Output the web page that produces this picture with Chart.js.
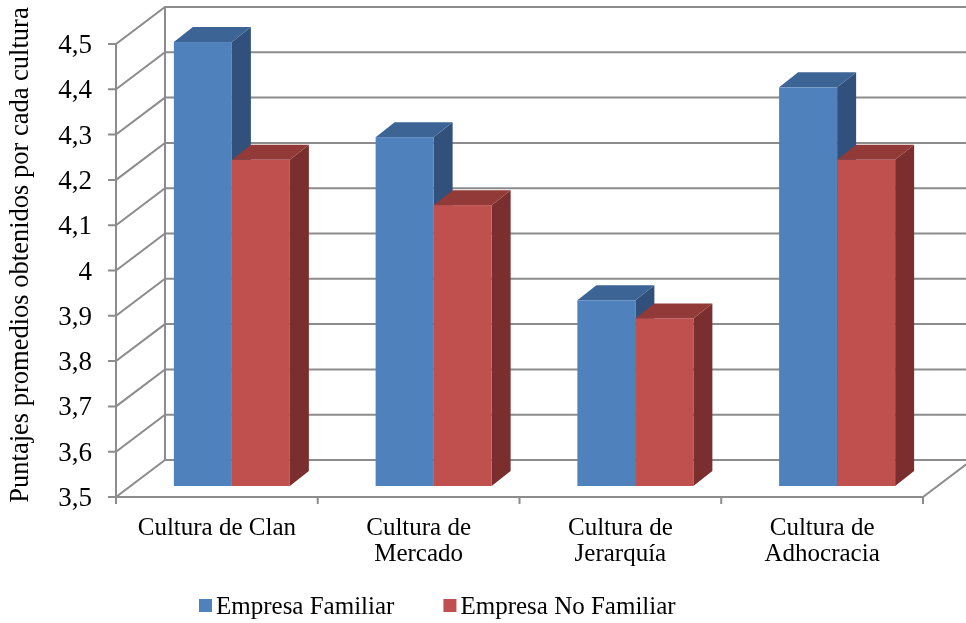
<!DOCTYPE html>
<html lang="es">
<head>
<meta charset="UTF-8">
<title>Puntajes promedios por cultura</title>
<script src="https://cdn.jsdelivr.net/npm/chart.js"></script>
<style>
  html, body { margin: 0; padding: 0; background: #fff; }
  canvas { display: block; }
</style>
</head>
<body>
<canvas id="myChart" width="966" height="623"></canvas>
<script>
// datos
const categorias = ['Cultura de Clan', ['Cultura de', 'Mercado'], ['Cultura de', 'Jerarquía'], ['Cultura de', 'Adhocracia']];
const empresaFamiliar = [4.48, 4.27, 3.91, 4.38];
const empresaNoFamiliar = [4.22, 4.12, 3.87, 4.22];
const nombresSeries = ['Empresa Familiar', 'Empresa No Familiar'];
const ejeMin = 3.5, ejeMax = 4.5, ejePaso = 0.1;
const tituloEjeY = 'Puntajes promedios obtenidos por cada cultura';

// colores de cada cara: frente, arriba, lado
const colores = [
  { frente: '#4f81bd', arriba: '#3c6494', lado: '#31517c' },
  { frente: '#c0504d', arriba: '#923a38', lado: '#7a2e2d' }
];

const FUENTE = '"Liberation Serif", "Times New Roman", serif';
const PARED = { dx: 49, dy: -37 };                 // fondo de la caja 3D
const BARRA = { fx: 15, fy: -11, dx: 19, dy: -15 }; // desplazamiento y profundidad de las barras

const caja3d = {
  id: 'caja3d',
  beforeDatasetsDraw(chart) {
    const { ctx, chartArea: a, scales: { x, y } } = chart;
    ctx.save();
    ctx.strokeStyle = '#8c8c8c';
    ctx.lineWidth = 2;
    ctx.lineCap = 'butt';

    // lineas de la pared izquierda y del fondo
    y.ticks.forEach(t => {
      const py = y.getPixelForValue(t.value);
      ctx.beginPath();
      ctx.moveTo(a.left - 8, py);
      ctx.lineTo(a.left, py);
      ctx.lineTo(a.left + PARED.dx, py + PARED.dy);
      ctx.lineTo(a.right + PARED.dx, py + PARED.dy);
      ctx.stroke();
    });
    // arista trasera izquierda y eje frontal
    ctx.beginPath();
    ctx.moveTo(a.left + PARED.dx, a.top + PARED.dy);
    ctx.lineTo(a.left + PARED.dx, a.bottom + PARED.dy);
    ctx.moveTo(a.left, a.top);
    ctx.lineTo(a.left, a.bottom);
    // piso: borde frontal y lateral derecho
    ctx.moveTo(a.left, a.bottom);
    ctx.lineTo(a.right, a.bottom);
    ctx.lineTo(a.right + PARED.dx, a.bottom + PARED.dy);
    ctx.stroke();
    // marcas del eje x entre categorias
    const paso = (a.right - a.left) / categorias.length;
    ctx.beginPath();
    for (let i = 0; i <= categorias.length; i++) {
      const px = a.left + paso * i;
      ctx.moveTo(px, a.bottom);
      ctx.lineTo(px, a.bottom + 7);
    }
    ctx.stroke();

    // barras 3D, categoria por categoria para que se tapen bien
    const metas = chart.data.datasets.map((d, i) => chart.getDatasetMeta(i));
    for (let j = 0; j < categorias.length; j++) {
      metas.forEach((meta, i) => {
        const el = meta.data[j];
        const { x: cx, y: top, base, width } = el.getProps(['x', 'y', 'base', 'width'], true);
        const izq = cx - width / 2 + BARRA.fx;
        const der = cx + width / 2 + BARRA.fx;
        const arr = top + BARRA.fy;
        const abj = base + BARRA.fy;
        const c = colores[i];
        // lado
        ctx.fillStyle = c.lado;
        ctx.beginPath();
        ctx.moveTo(der, arr);
        ctx.lineTo(der + BARRA.dx, arr + BARRA.dy);
        ctx.lineTo(der + BARRA.dx, abj + BARRA.dy);
        ctx.lineTo(der, abj);
        ctx.closePath();
        ctx.fill();
        // tapa
        ctx.fillStyle = c.arriba;
        ctx.beginPath();
        ctx.moveTo(izq, arr);
        ctx.lineTo(izq + BARRA.dx, arr + BARRA.dy);
        ctx.lineTo(der + BARRA.dx, arr + BARRA.dy);
        ctx.lineTo(der, arr);
        ctx.closePath();
        ctx.fill();
        // frente
        ctx.fillStyle = c.frente;
        ctx.fillRect(izq, arr, der - izq, abj - arr);
      });
    }
    ctx.restore();
    return false; // las barras ya se dibujaron aqui
  },
  afterDraw(chart) {
    const { ctx } = chart;
    ctx.save();
    ctx.fillStyle = '#000';
    // titulo del eje y
    ctx.font = '26.5px ' + FUENTE;
    ctx.textAlign = 'center';
    ctx.textBaseline = 'middle';
    ctx.translate(21, 255);
    ctx.rotate(-Math.PI / 2);
    ctx.fillText(tituloEjeY, 0, 0);
    ctx.setTransform(1, 0, 0, 1, 0, 0);

    // leyenda
    ctx.font = '25px ' + FUENTE;
    ctx.textAlign = 'left';
    ctx.textBaseline = 'alphabetic';
    let lx = 199;
    nombresSeries.forEach((n, i) => {
      ctx.fillStyle = colores[i].frente;
      ctx.fillRect(lx, 599, 13, 13);
      ctx.fillStyle = '#000';
      ctx.fillText(n, lx + 17, 614);
      lx += 17 + ctx.measureText(n).width + 49;
    });
    ctx.restore();
  }
};

const ctx = document.getElementById('myChart').getContext('2d');
new Chart(ctx, {
  type: 'bar',
  data: {
    labels: categorias,
    datasets: [
      { label: nombresSeries[0], data: empresaFamiliar, backgroundColor: colores[0].frente },
      { label: nombresSeries[1], data: empresaNoFamiliar, backgroundColor: colores[1].frente }
    ]
  },
  options: {
    responsive: false,
    devicePixelRatio: 1,
    animation: false,
    layout: { padding: { top: 44, right: 43, left: 0, bottom: 0 } },
    datasets: { bar: { categoryPercentage: 0.575, barPercentage: 1, base: ejeMin } },
    plugins: { legend: { display: false }, tooltip: { enabled: false } },
    scales: {
      x: {
        grid: { display: false, drawTicks: false },
        border: { display: false },
        ticks: {
          color: '#000',
          font: { family: FUENTE, size: 25, lineHeight: 1.06 },
          padding: 18,
          maxRotation: 0,
          autoSkip: false
        },
        afterFit(s) { s.height = 126; }
      },
      y: {
        min: ejeMin,
        max: ejeMax,
        grid: { display: false, drawTicks: false },
        border: { display: false },
        ticks: {
          stepSize: ejePaso,
          color: '#000',
          font: { family: FUENTE, size: 27 },
          padding: 24,
          labelOffset: 2,
          callback: v => String(Math.round(v * 10) / 10).replace('.', ',')
        },
        afterFit(s) { s.width = 116; }
      }
    }
  },
  plugins: [caja3d]
});
</script>
</body>
</html>
